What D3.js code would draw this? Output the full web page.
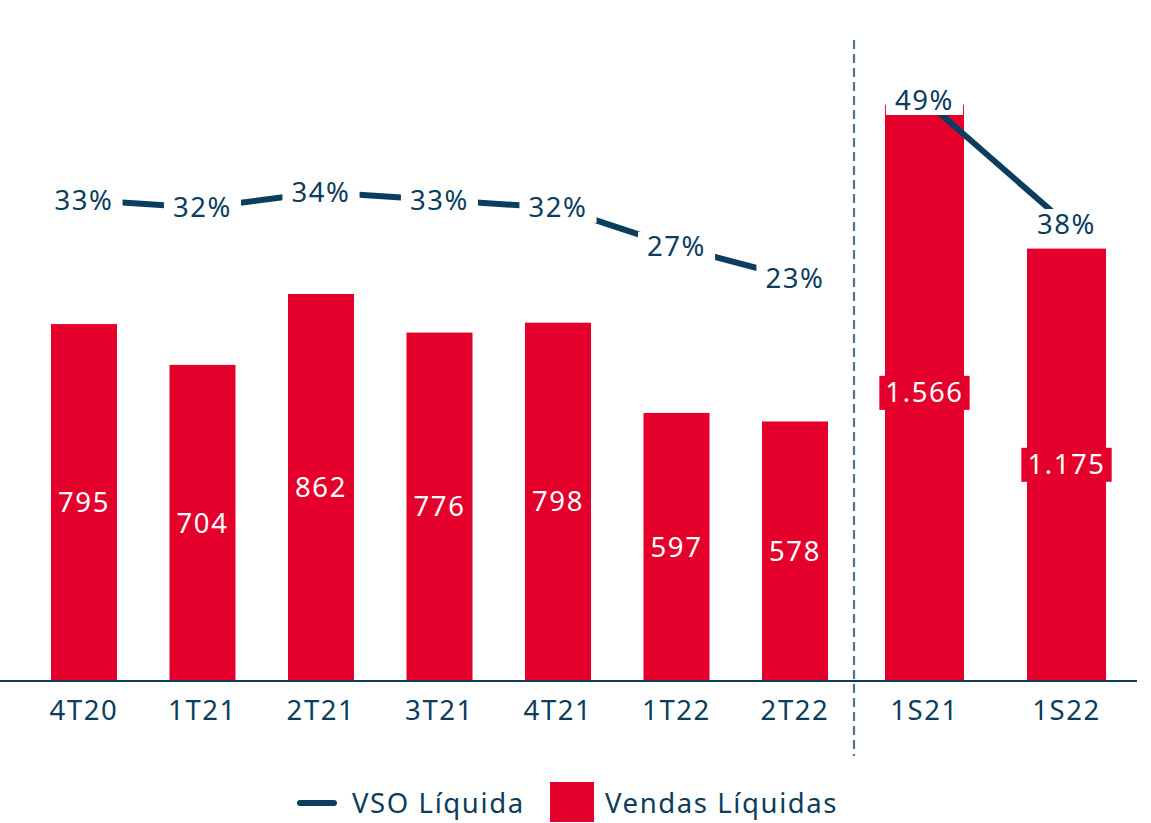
<!DOCTYPE html>
<html>
<head>
<meta charset="utf-8">
<script src="https://cdn.jsdelivr.net/npm/d3@7"></script>
<style>
  body { margin: 0; background: #fff; }
  svg text { font-family: "Noto Sans", sans-serif; }
</style>
</head>
<body>
<div id="chart"></div>
<script>
// quarterly data
var quarters = ["4T20", "1T21", "2T21", "3T21", "4T21", "1T22", "2T22"];
var quarterSales = [795, 704, 862, 776, 798, 597, 578];
var quarterVso = [33, 32, 34, 33, 32, 27, 23];

// semester data
var semesters = ["1S21", "1S22"];
var semesterSales = [1566, 1175];
var semesterVso = [49, 38];

var seriesNames = ["VSO Líquida", "Vendas Líquidas"];

var width = 1151, height = 823;
var red = "#e4002b", navy = "#0b3d5e";
var fontSize = 27.5, spacing = 1.6;
var baseY = 681;

var svg = d3.select("#chart").append("svg")
    .attr("width", width)
    .attr("height", height);

// scales - quarters and semesters each get their own
var xQ = d3.scaleBand().domain(quarters).range([24.75, 854.25])
    .paddingInner(0.443).paddingOuter(0.2215);
var xS = d3.scaleBand().domain(semesters).range([854, 1137])
    .paddingInner(0.4437).paddingOuter(0.218);

var yQ = d3.scaleLinear().domain([0, 1000]).range([baseY, baseY - 449]);
var yS = d3.scaleLinear().domain([0, 1000]).range([baseY, baseY - 368]);

var pQ = d3.scaleLinear().domain([23, 33]).range([278, 200]);
var pS = d3.scaleLinear().domain([38, 49]).range([224, 100]);

function drawBars(cats, vals, x, y) {
  var g = svg.append("g");
  g.selectAll("rect")
      .data(vals)
      .enter()
      .append("rect")
      .attr("x", function(d, i) { return x(cats[i]); })
      .attr("y", function(d) { return y(d); })
      .attr("width", x.bandwidth())
      .attr("height", function(d) { return baseY - y(d); })
      .attr("fill", red);
  return g;
}

drawBars(quarters, quarterSales, xQ, yQ);
drawBars(semesters, semesterSales, xS, yS);

// value labels inside bars
var fmt = function(v) { return d3.format(",")(v).replace(",", "."); };

function barLabels(cats, vals, x, y, boxed) {
  var g = svg.append("g");
  vals.forEach(function(v, i) {
    var cx = x(cats[i]) + x.bandwidth() / 2,
        cy = (y(v) + baseY) / 2;
    var t = g.append("text")
        .attr("x", cx)
        .attr("y", cy)
        .attr("dy", "0.35em")
        .attr("text-anchor", "middle")
        .attr("fill", "#fff")
        .style("font-size", fontSize + "px")
        .style("letter-spacing", spacing + "px")
        .text(fmt(v));
    if (boxed) {
      var bb = t.node().getBBox();
      g.insert("rect", "text")
          .attr("x", bb.x - 6)
          .attr("y", cy - 17)
          .attr("width", bb.width + 12)
          .attr("height", 34)
          .attr("fill", red);
    }
  });
}

barLabels(quarters, quarterSales, xQ, yQ, false);
barLabels(semesters, semesterSales, xS, yS, true);

// axis line
svg.append("line")
    .attr("x1", 0).attr("x2", 1137)
    .attr("y1", baseY).attr("y2", baseY)
    .attr("stroke", navy)
    .attr("stroke-width", 2);

// category labels
function catLabels(cats, x) {
  svg.append("g").selectAll("text")
      .data(cats)
      .enter()
      .append("text")
      .attr("x", function(d) { return x(d) + x.bandwidth() / 2; })
      .attr("y", 720)
      .attr("text-anchor", "middle")
      .attr("fill", navy)
      .style("font-size", fontSize + "px")
      .style("letter-spacing", spacing + "px")
      .text(function(d) { return d; });
}
catLabels(quarters, xQ);
catLabels(semesters, xS);

// dashed separator
svg.append("line")
    .attr("x1", 854).attr("x2", 854)
    .attr("y1", 40).attr("y2", 756)
    .attr("stroke", "#4f7691")
    .attr("stroke-width", 2.2)
    .attr("stroke-dasharray", "9,5");

// VSO lines
function drawVso(cats, vals, x, p) {
  var line = d3.line()
      .x(function(d, i) { return x(cats[i]) + x.bandwidth() / 2; })
      .y(function(d) { return p(d); });
  svg.append("path")
      .datum(vals)
      .attr("d", line)
      .attr("fill", "none")
      .attr("stroke", navy)
      .attr("stroke-width", 6);

  var g = svg.append("g");
  vals.forEach(function(v, i) {
    var cx = x(cats[i]) + x.bandwidth() / 2,
        cy = p(v);
    var t = g.append("text")
        .attr("x", cx)
        .attr("y", cy)
        .attr("dy", "0.35em")
        .attr("text-anchor", "middle")
        .attr("fill", navy)
        .style("font-size", fontSize + "px")
        .style("letter-spacing", spacing + "px")
        .text(v + "%");
    var bb = t.node().getBBox();
    g.insert("rect", "text")
        .attr("x", bb.x - 9)
        .attr("y", cy - 15)
        .attr("width", bb.width + 18)
        .attr("height", 30)
        .attr("fill", "#fff");
  });
}
drawVso(quarters, quarterVso, xQ, pQ);
drawVso(semesters, semesterVso, xS, pS);

// legend
var legend = svg.append("g");
legend.append("line")
    .attr("x1", 300).attr("x2", 334)
    .attr("y1", 803).attr("y2", 803)
    .attr("stroke", navy)
    .attr("stroke-width", 6)
    .attr("stroke-linecap", "round");
legend.append("text")
    .attr("x", 352).attr("y", 813)
    .attr("fill", navy)
    .style("font-size", fontSize + "px")
    .style("letter-spacing", spacing + "px")
    .text(seriesNames[0]);
legend.append("rect")
    .attr("x", 550).attr("y", 782)
    .attr("width", 44).attr("height", 40)
    .attr("fill", red);
legend.append("text")
    .attr("x", 605).attr("y", 813)
    .attr("fill", navy)
    .style("font-size", fontSize + "px")
    .style("letter-spacing", spacing + "px")
    .text(seriesNames[1]);
</script>
</body>
</html>
